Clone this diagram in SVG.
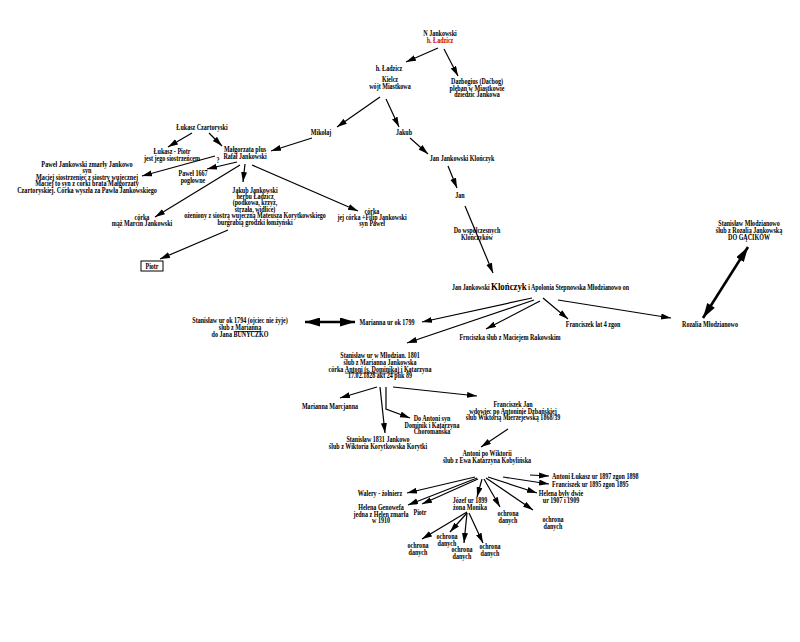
<svg xmlns="http://www.w3.org/2000/svg" width="800" height="642" viewBox="0 0 800 642">
<style>
text{font-family:"Liberation Serif","Times New Roman",serif;font-weight:bold;font-size:7.4px;fill:#000;text-anchor:middle}
.s{text-anchor:start}
.red{fill:#cc0000}
.big{font-size:11px}
.u{text-decoration:underline}
.c line,.c polyline{stroke:#000;stroke-width:1.2;fill:none;marker-end:url(#ah)}
.c .d{stroke-width:2.6;marker-start:url(#dh2);marker-end:url(#dh)}
</style>
<defs>
<marker id="ah" markerUnits="userSpaceOnUse" markerWidth="12" markerHeight="8" refX="10" refY="3" orient="auto"><path d="M0,0 L10,3 L0,6 Z" fill="#000"/></marker>
<marker id="dh" markerUnits="userSpaceOnUse" markerWidth="16" markerHeight="12" refX="15" refY="4.5" orient="auto"><path d="M0,0 L15,4.5 L0,9 Z" fill="#000"/></marker>
<marker id="dh2" markerUnits="userSpaceOnUse" markerWidth="16" markerHeight="12" refX="0" refY="4.5" orient="auto"><path d="M15,0 L0,4.5 L15,9 Z" fill="#000"/></marker>
</defs>
<rect width="800" height="642" fill="#fff"/>
<g class="c" id="connectors">
<line x1="438" y1="48" x2="406" y2="62"/>
<line x1="444" y1="49" x2="458" y2="76"/>
<line x1="380" y1="97" x2="337" y2="127"/>
<line x1="386" y1="99" x2="399" y2="127"/>
<line x1="312" y1="138" x2="271" y2="151"/>
<line x1="410" y1="138" x2="428" y2="154"/>
<line x1="448" y1="166" x2="457" y2="188"/>
<line x1="465" y1="206" x2="493" y2="273"/>
<line x1="192" y1="133" x2="168" y2="147"/>
<line x1="209" y1="133" x2="222" y2="146"/>
<line x1="215" y1="156" x2="142" y2="176"/>
<line x1="237" y1="162" x2="207" y2="169"/>
<line x1="245" y1="164" x2="243" y2="182"/>
<line x1="240" y1="165" x2="155" y2="217"/>
<line x1="252" y1="165" x2="358" y2="211"/>
<line x1="228" y1="230" x2="160" y2="259"/>
<line x1="532" y1="298" x2="422" y2="322"/>
<line x1="534" y1="300" x2="407" y2="343"/>
<line x1="540" y1="301" x2="486" y2="329"/>
<line x1="543" y1="298" x2="568" y2="319"/>
<line x1="558" y1="300" x2="671" y2="318"/>
<line class="d" x1="305" y1="322" x2="355" y2="322"/>
<line class="d" x1="703" y1="318" x2="748" y2="247"/>
<line x1="377" y1="387" x2="340" y2="398"/>
<line x1="380" y1="387" x2="385" y2="433"/>
<polyline points="386,387 386,409 410,418"/>
<line x1="393" y1="387" x2="477" y2="396"/>
<line x1="508" y1="429" x2="481" y2="447"/>
<line x1="530" y1="475" x2="549" y2="476"/>
<line x1="503" y1="477" x2="549" y2="484"/>
<line x1="488" y1="477" x2="537" y2="493"/>
<line x1="486" y1="478" x2="533" y2="510"/>
<line x1="484" y1="479" x2="500" y2="507"/>
<line x1="482" y1="479" x2="477" y2="497"/>
<line x1="478" y1="479" x2="422" y2="504"/>
<line x1="477" y1="478" x2="408" y2="505"/>
<line x1="475" y1="477" x2="407" y2="493"/>
<line x1="467" y1="512" x2="422" y2="539"/>
<line x1="467" y1="513" x2="450" y2="532"/>
<line x1="467" y1="513" x2="464" y2="543"/>
<line x1="469" y1="513" x2="483" y2="543"/>
</g>
<g id="n-jankowski"><text transform="translate(440,36) scale(.82 1)"><tspan x="0" y="0">N Jankowski</tspan><tspan class="red" x="0" y="7">h. Ładzicz</tspan></text></g>
<g id="h-ladzicz"><text transform="translate(389,71) scale(.82 1)">h. Ładzicz</text></g>
<g id="kielcz"><text transform="translate(390,82) scale(.82 1)"><tspan x="0" y="0">Kielcz</tspan><tspan x="0" y="6.8">wójt Miastkowa</tspan></text></g>
<g id="dazbogius"><text transform="translate(477,84) scale(.82 1)"><tspan x="0" y="0">Dazbogius (Daćbog)</tspan><tspan x="0" y="6.5">pleban w Miastkowie</tspan><tspan x="0" y="13">dziedzic Jankowa</tspan></text></g>
<g id="mikolaj"><text transform="translate(321,135) scale(.82 1)">Mikołaj</text></g>
<g id="jakub"><text transform="translate(404,135) scale(.82 1)">Jakub</text></g>
<g id="jan-klonczyk"><text transform="translate(462,161) scale(.82 1)">Jan Jankowski Klończyk</text></g>
<g id="jan"><text transform="translate(460,198) scale(.82 1)">Jan</text></g>
<g id="wspolczesni"><text transform="translate(477,233) scale(.82 1)"><tspan x="0" y="0">Do współczesnych</tspan><tspan x="0" y="6.5">Klończyków</tspan></text></g>
<g id="lukasz-cz"><text transform="translate(202,130) scale(.82 1)">Łukasz Czartoryski</text></g>
<g id="lukasz-piotr"><text transform="translate(172,154) scale(.82 1)"><tspan x="0" y="0">Łukasz - Piotr</tspan><tspan x="0" y="6.5">jest jego siostrzeńcem</tspan></text></g>
<g id="malgorzata"><text transform="translate(245,152) scale(.82 1)"><tspan x="0" y="0">Małgorzata plus</tspan><tspan x="0" y="6.5">Rafał Jankowski</tspan></text><text transform="translate(218,163) scale(.82 1)">?</text></g>
<g id="pawel-zmarly"><text transform="translate(87,167) scale(.84 1)"><tspan x="0" y="0">Paweł Jankowski zmarły Jankowo</tspan><tspan x="0" y="6.5">syn</tspan><tspan x="0" y="13">Maciej siostrzeniec z siostry wujecznej</tspan><tspan x="0" y="19.5">Maciej to syn z córki brata Małgorzaty</tspan><tspan x="0" y="26">Czartoryskiej. Córka wyszła za Pawła Jankowskiego</tspan></text></g>
<g id="pawel-1667"><text transform="translate(193,176) scale(.82 1)"><tspan x="0" y="0">Paweł 1667</tspan><tspan x="0" y="6.5">pogłowne</tspan></text></g>
<g id="jakub-jankowski"><text transform="translate(255,192.5) scale(.82 1)"><tspan x="0" y="0">Jakub Jankowski</tspan><tspan x="0" y="6.5">herbu Ładzicz</tspan><tspan x="0" y="13">(podkowa, krzyż,</tspan><tspan x="0" y="19.5">strzała, widlice)</tspan><tspan x="0" y="26">ożeniony z siostrą wujeczną Mateusza Korytkowskiego</tspan><tspan x="0" y="32.5">burgrabią grodzki łomżyński</tspan></text></g>
<g id="corka-marcin"><text transform="translate(142,219.5) scale(.82 1)"><tspan x="0" y="0">córka</tspan><tspan x="0" y="6.5">mąż Marcin Jankowski</tspan></text></g>
<g id="corka-filip"><text transform="translate(372,213.5) scale(.82 1)"><tspan x="0" y="0">córka</tspan><tspan x="0" y="6.5">jej córka +Filip Jankowski</tspan><tspan x="0" y="13">syn Paweł</tspan></text></g>
<g id="piotr-box"><rect x="141" y="261" width="22" height="10" fill="#fff" stroke="#000" stroke-width="1"/><text transform="translate(152,269) scale(.82 1)">Piotr</text></g>
<g id="jan-apolonia"><text class="s" transform="translate(452,290) scale(.8 1)">Jan Jankowski <tspan class="big">Klończyk</tspan> i Apolonia Stepnowska Młodzianowo on</text></g>
<g id="stanislaw-mlodz"><text transform="translate(749,226) scale(.82 1)"><tspan x="0" y="0">Stanisław Młodzianowo</tspan><tspan x="0" y="7">ślub z Rozalią Jankowską</tspan><tspan x="0" y="14">DO GĄCIKÓW</tspan></text></g>
<g id="rozalia"><text transform="translate(710,327) scale(.82 1)">Rozalia Młodzianowo</text></g>
<g id="franciszek-4"><text transform="translate(593,327) scale(.82 1)">Franciszek lat 4 zgon</text></g>
<g id="frnciszka"><text transform="translate(510,340) scale(.82 1)">Frnciszka ślub z Maciejem Rakowskim</text></g>
<g id="marianna-1799"><text transform="translate(387,325) scale(.82 1)">Marianna ur ok 1799</text></g>
<g id="stanislaw-1794"><text transform="translate(240,323) scale(.82 1)"><tspan x="0" y="0">Stanisław ur ok 1794 (ojciec nie żyje)</tspan><tspan x="0" y="7">ślub z <tspan class="u">Marianną</tspan></tspan><tspan x="0" y="14">do Jana BUNYCZKO</tspan></text></g>
<g id="stanislaw-1801"><text transform="translate(380,358) scale(.82 1)"><tspan x="0" y="0">Stanisław ur w Młodzian. 1801</tspan><tspan x="0" y="6.8">ślub z Marianna Jankowska</tspan><tspan x="0" y="13.6">córka <tspan class="u">Antoni (s. Dominika)</tspan> i Katarzyna</tspan><tspan x="0" y="20.4">17.02.1828 akt 24 plik 89</tspan></text></g>
<g id="marianna-marcjanna"><text transform="translate(330,409) scale(.82 1)">Marianna Marcjanna</text></g>
<g id="stanislaw-1831"><text transform="translate(378,442) scale(.82 1)"><tspan x="0" y="0">Stanisław 1831 Jankowo</tspan><tspan x="0" y="6.5">ślub z Wiktoria Korytkowska Korytki</tspan></text></g>
<g id="do-antoni"><text transform="translate(432,421) scale(.82 1)"><tspan x="0" y="0">Do Antoni syn</tspan><tspan x="0" y="6.5">Dominik i Katarzyna</tspan><tspan x="0" y="13">Choromańska</tspan></text></g>
<g id="franciszek-jan"><text transform="translate(513,407) scale(.82 1)"><tspan x="0" y="0">Franciszek Jan</tspan><tspan x="0" y="6.5">wdowiec po Antoninie Dzbańskiej</tspan><tspan x="0" y="13">ślub Wiktorią Mierzejewską 1868/39</tspan></text></g>
<g id="antoni-wiktoria"><text transform="translate(487,456) scale(.82 1)"><tspan x="0" y="0">Antoni po Wiktorii</tspan><tspan x="0" y="6.5">ślub z Ewa Katarzyna Kobylińska</tspan></text></g>
<g id="antoni-lukasz"><text class="s" transform="translate(552,479) scale(.82 1)">Antoni Łukasz ur 1897 zgon 1898</text></g>
<g id="franciszek-1895"><text class="s" transform="translate(552,487) scale(.82 1)">Franciszek ur 1895 zgon 1895</text></g>
<g id="helena-dwie"><text transform="translate(561,496) scale(.82 1)"><tspan x="0" y="0">Helena były dwie</tspan><tspan x="0" y="6.5">ur 1907 i 1909</tspan></text></g>
<g id="ochrona-r"><text transform="translate(553,522) scale(.82 1)"><tspan x="0" y="0">ochrona</tspan><tspan x="0" y="6.5">danych</tspan></text></g>
<g id="ochrona-m"><text transform="translate(508,516) scale(.82 1)"><tspan x="0" y="0">ochrona</tspan><tspan x="0" y="6.5">danych</tspan></text></g>
<g id="jozef"><text transform="translate(470,503) scale(.82 1)"><tspan x="0" y="0">Józef ur 1899</tspan><tspan x="0" y="6.5">żona Monika</tspan></text></g>
<g id="piotr"><text transform="translate(420,515) scale(.82 1)">Piotr</text></g>
<g id="helena-genowefa"><text transform="translate(381,510) scale(.82 1)"><tspan x="0" y="0">Helena Genowefa</tspan><tspan x="0" y="6.5">jedna z Helen zmarła</tspan><tspan x="0" y="13">w 1910</tspan></text></g>
<g id="walery"><text transform="translate(380,496) scale(.82 1)">Walery - żołnierz</text></g>
<g id="ochrona-1"><text transform="translate(418,548) scale(.82 1)"><tspan x="0" y="0">ochrona</tspan><tspan x="0" y="6.5">danych</tspan></text></g>
<g id="ochrona-2"><text transform="translate(447,539) scale(.82 1)"><tspan x="0" y="0">ochrona</tspan><tspan x="0" y="6.5">danych</tspan></text></g>
<g id="ochrona-3"><text transform="translate(462,552) scale(.82 1)"><tspan x="0" y="0">ochrona</tspan><tspan x="0" y="6.5">danych</tspan></text></g>
<g id="ochrona-4"><text transform="translate(490,549) scale(.82 1)"><tspan x="0" y="0">ochrona</tspan><tspan x="0" y="6.5">danych</tspan></text></g>
</svg>
